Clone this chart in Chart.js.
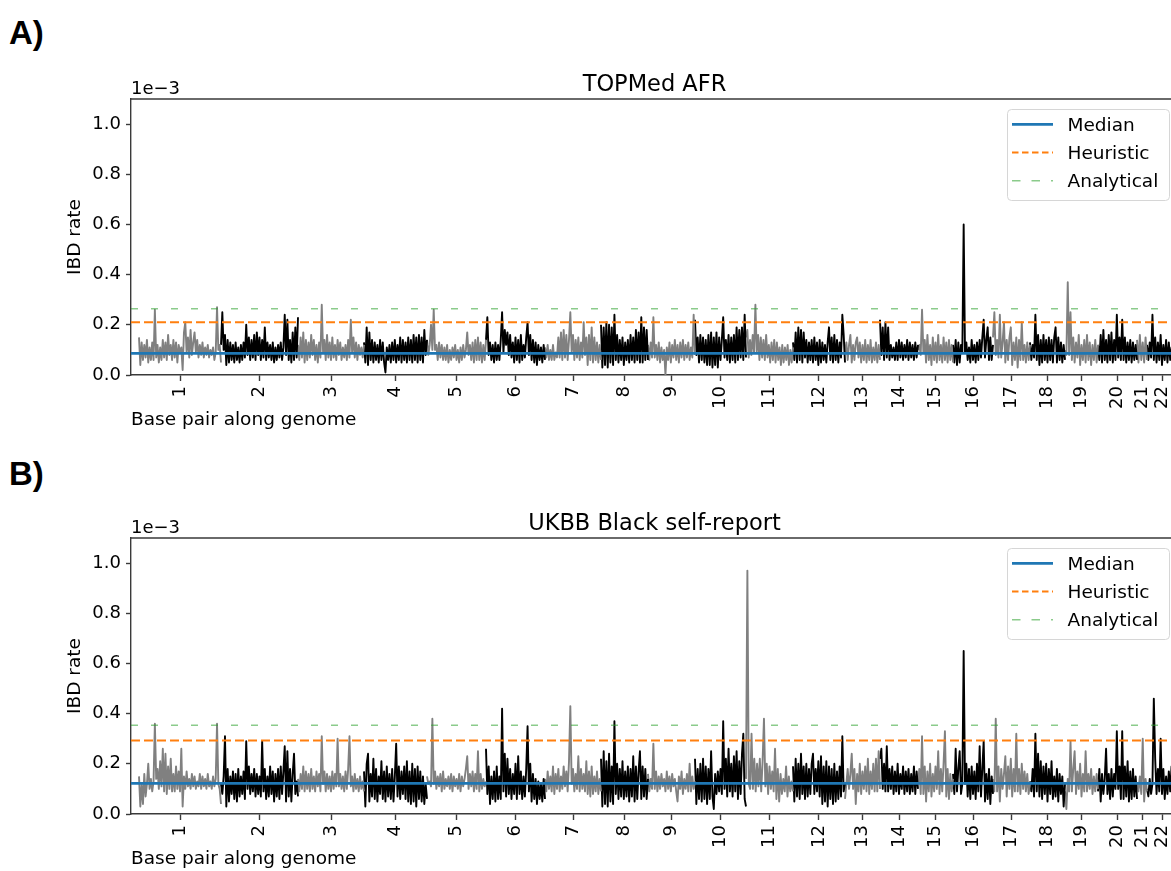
<!DOCTYPE html>
<html>
<head>
<meta charset="utf-8">
<script src="https://cdn.jsdelivr.net/npm/chart.js@4.4.0/dist/chart.umd.min.js"></script>
<style>
  body { margin: 0; background: #fff; width: 1171px; height: 871px; overflow: hidden; position: relative; }
  .tag { position: absolute; left: 9px; font: bold 33px "Liberation Sans", Arial, sans-serif; color: #000; line-height: 1; }
  .panel { position: absolute; left: 0; width: 1190px; height: 390px; }
</style>
</head>
<body>
<div class="tag" style="top:16px">A)</div>
<div class="tag" style="top:457px">B)</div>
<div class="panel" style="top:50px"><canvas id="chartA" width="1190" height="390"></canvas></div>
<div class="panel" style="top:489px"><canvas id="chartB" width="1190" height="390"></canvas></div>
<script>
const chromLabels = ["1", "2", "3", "4", "5", "6", "7", "8", "9", "10", "11",
  "12", "13", "14", "15", "16", "17", "18", "19", "20", "21", "22"]
// chromosome extent along the genome axis (Mb)
const chromLengthMb = [246, 231, 198, 189, 177, 177, 168, 141, 141, 153, 141,
  156, 105, 114, 105, 120, 111, 105, 99, 117, 30, 90]

// IBD rate per window, chromosome by chromosome, in units of 1e-5
const topmedAfr = [
  [15,4,13,6,12,7,14,5,11,6,13,6,26,7,12,5,11,6,14,7,13,6,16,8,12,6,14,7,13,5,12,9,11,2,17,21,9,15,7,18,8,13,17,9,14,7,12,8,13,7,11,8,12,7,10,8,11,6,9,27,10,12,5],
  [12,25,10,16,4,14,5,13,6,12,5,13,6,11,5,12,6,13,7,20,8,15,6,14,7,16,6,17,8,15,6,14,7,19,6,13,7,12,6,13,5,11,6,12,7,13,6,11,24,8,22,6,14,5,17,6,19,7,23],
  [12,6,15,7,17,5,14,6,13,7,16,8,14,6,12,5,13,7,28,9,14,6,16,7,13,6,15,7,12,6,14,8,13,6,11,7,12,6,14,7,22,9,15,7,13,6,12,8,11,7,12],
  [13,5,19,4,17,6,14,5,13,6,12,5,14,6,13,5,1,11,6,12,5,13,6,14,5,12,6,15,5,14,6,13,5,15,6,14,5,16,6,15,5,16,6,15,5,18,8,14],
  [14,8,12,20,10,26,10,12,6,13,7,12,6,11,6,12,5,10,6,11,7,12,6,10,5,11,6,12,7,10,17,8,12,6,13,5,14,6,15,6,13,5,12,6,14],
  [14,23,8,13,6,12,5,13,6,12,6,14,25,9,18,12,17,8,16,7,13,5,15,6,14,5,16,6,12,7,15,21,8,16,6,14,5,13,4,12,6,11,5,12,6],
  [11,7,12,6,10,6,12,6,9,7,15,7,17,6,18,7,16,6,14,25,9,16,6,14,7,15,6,13,7,21,8,15,4,16,6,19,5,15,6,13,5,12,6],
  [20,3,19,4,21,3,20,5,19,4,24,6,16,5,14,6,15,4,13,6,14,5,16,6,15,5,18,6,17,5,23,5,19,6,18,6],
  [12,6,13,7,23,7,12,6,13,5,11,6,10,0,11,6,13,5,12,7,14,6,12,5,13,7,14,6,12,7,13,6,11,7,24,8],
  [22,8,15,5,16,6,15,5,14,4,16,4,17,3,15,4,17,3,15,6,14,23,7,14,6,16,5,15,6,16,5,19,6,18,7,19,6,24,7],
  [15,18,7,14,8,16,9,28,9,16,6,15,7,14,6,16,7,12,5,13,6,14,5,13,6,11,4,12,5,11,6,12,4,10,5,11],
  [13,6,17,5,19,6,18,5,17,7,14,5,13,6,14,5,15,6,13,4,14,5,13,6,12,5,13,19,6,15,5,16,6,14,5,13,7,24,16,5],
  [9,13,6,12,16,5,12,6,13,15,7,13,5,12,6,14,5,12,6,14,5,11,6,13,5,12,6],
  [22,8,19,6,21,7,19,6,12,7,11,6,13,6,14,7,13,6,12,7,14,6,13,7,12,6,13,7,12],
  [10,12,8,26,9,14,5,16,6,12,4,15,6,13,5,16,6,12,5,15,6,13,5,14,6,12,5],
  [12,5,14,4,13,5,12,9,60,9,13,6,11,5,14,6,12,5,13,6,14,7,15,22,7,14,19,6,15,6,12],
  [15,25,8,14,7,24,7,13,21,5,14,6,15,19,4,13,6,15,3,14,6,21,6,12,5,13,6,12],
  [13,6,12,7,24,6,16,4,14,5,16,6,14,5,15,6,14,5,15,19,5,15,6,13,5,12,6],
  [10,8,37,8,25,6,15,5,13,7,16,4,12,6,14,5,16,6,13,4,12,6,14,5,12],
  [12,6,16,5,18,6,14,5,16,6,17,5,14,6,24,7,15,6,22,6,15,5,13,6,14,5,13,6,12,6],
  [14,5,16,6,13,5,15,6],
  [12,6,13,7,24,6,15,5,13,6,16,4,12,6,14,5,13,6,11,5,12,6,11]
]

const ukbbBlack = [
  [15,3,12,4,16,7,12,20,10,14,9,13,36,14,18,10,21,11,26,9,24,8,19,10,22,9,16,9,19,10,17,9,26,3,15,10,17,11,14,10,16,11,15,10,13,11,16,10,15,11,14,10,16,11,13,10,15,11,14,36,12,10,4],
  [12,8,15,31,3,18,5,15,8,17,6,16,5,18,7,15,8,17,6,29,10,19,8,16,9,18,7,16,8,15,7,29,9,18,6,15,7,19,8,17,5,16,7,18,6,19,8,17,27,5,25,7,18,5,16,24,8,13,7],
  [14,9,16,10,19,9,17,10,16,9,18,10,15,9,17,11,16,9,31,12,17,9,16,10,15,9,17,10,16,11,30,11,16,10,15,9,17,10,18,31,11,15,9,16,10,14,9,15,10,13,9],
  [17,3,20,24,5,16,7,22,6,18,5,15,8,21,6,17,5,19,7,16,6,18,5,15,28,7,19,6,17,8,19,6,21,5,17,4,20,5,18,3,19,6,17,5,15,4,12,6],
  [15,12,13,11,38,12,17,10,15,11,16,9,17,10,14,11,15,10,16,9,15,11,14,10,16,9,15,11,14,18,23,10,16,11,17,9,16,10,25,9,16,10,14,11,13],
  [26,8,19,4,15,6,17,5,19,6,15,6,42,9,24,7,22,8,18,6,16,8,20,6,23,8,17,6,15,7,18,35,9,20,5,16,6,14,4,13,6,12,5,14,6],
  [14,9,17,10,15,9,19,8,16,10,18,9,15,10,19,11,17,9,21,43,12,18,9,16,10,23,9,18,10,16,9,21,8,17,7,19,8,15,9,17,8,14,9],
  [22,3,25,4,21,3,24,5,19,4,37,8,20,6,18,7,21,6,17,7,19,5,18,7,23,5,19,6,17,25,6,19,7,18,6,14],
  [16,9,14,10,28,10,17,9,15,10,16,11,14,9,17,10,15,9,16,11,14,9,5,15,10,17,8,14,10,16,9,20,9,15,10,13],
  [22,4,18,6,20,5,22,6,19,4,18,6,25,7,2,16,8,17,9,18,8,37,10,22,7,26,9,20,7,23,9,25,6,21,8,24,32,6,3],
  [14,97,12,10,32,10,22,9,20,11,22,9,21,38,11,20,8,19,10,17,9,26,6,18,5,16,8,14,9,19,7,15,9,13,9],
  [19,5,22,7,20,6,24,8,19,6,20,7,18,8,20,24,8,18,9,21,7,23,4,19,5,21,3,19,6,18,4,20,5,17,6,19,7,31,9,12],
  [6,12,18,10,16,24,10,18,4,16,9,20,8,17,10,19,9,22,8,17,10,20,9,22,9,25,10],
  [22,26,10,20,9,27,9,18,10,19,8,17,9,20,8,16,10,19,8,17,9,18,8,16,9,19,8,17,10],
  [12,18,8,31,8,19,5,17,9,20,7,16,9,19,10,25,8,18,9,20,33,7,18,6,16,9,14],
  [16,8,26,9,18,25,8,12,65,12,20,7,18,6,19,8,17,6,20,9,27,7,18,29,5,16,6,18,4,15,8],
  [14,9,38,9,19,5,18,10,16,23,7,19,10,22,7,18,9,32,9,18,8,20,10,17,9,16,8,12],
  [13,9,18,7,32,9,24,7,21,6,19,8,20,5,18,8,21,6,15,7,18,5,16,8,15,3,12],
  [9,2,14,9,29,9,18,25,8,17,10,20,7,16,9,25,9,16,10,18,8,15,9,16,10],
  [9,18,5,16,8,14,26,8,16,6,18,7,16,10,33,10,19,6,33,6,19,7,21,5,17,6,18,7,15,6],
  [12,9,15,8,30,5,14,9],
  [10,7,14,8,12,46,22,8,18,9,30,8,18,6,15,8,17,9,19,7,16,8,14]
]

// genome-wide thresholds (units of 1e-3), TOPMed AFR then UKBB
const medianRate = [0.086, 0.122]
const heuristicRate = [0.21, 0.293]
const analyticalRate = [0.264, 0.354]
const panelTitles = ["TOPMed AFR", "UKBB Black self-report"]

const X_MIN = -24
const X_MAX = 3117
const FONT = "DejaVu Sans"
const SPINE = "#3a3a3a"

const chromStart = []
let acc = 0
chromLengthMb.forEach((len) => {
  chromStart.push(acc)
  acc += len
})
const chromMid = chromStart.map((s, i) => s + chromLengthMb[i] / 2)

function chromDatasets(series) {
  return series.map((vals, c) => ({
    data: vals.map((v, i) => ({
      x: chromStart[c] + (chromLengthMb[c] * i) / (vals.length - 1),
      y: v / 100,
    })),
    borderColor: c % 2 === 0 ? "#808080" : "#000000",
    borderWidth: 1.9,
    borderJoinStyle: "round",
    order: 2,
  }))
}

function hline(label, y, color, width, dash) {
  return {
    label: label,
    data: [{ x: X_MIN, y: y }, { x: X_MAX, y: y }],
    borderColor: color,
    borderWidth: width,
    borderDash: dash,
    order: 1,
  }
}

// top spine, title, offset text and legend box
const panelDecor = {
  id: "panelDecor",
  afterDraw(chart, args, opts) {
    const { ctx, chartArea: a } = chart
    ctx.save()
    ctx.strokeStyle = SPINE
    ctx.lineWidth = 1.4
    ctx.beginPath()
    ctx.moveTo(a.left, a.top)
    ctx.lineTo(a.right, a.top)
    ctx.lineTo(a.right, a.bottom)
    ctx.stroke()

    ctx.fillStyle = "#000"
    ctx.textBaseline = "alphabetic"
    ctx.textAlign = "center"
    ctx.font = `22.5px "${FONT}"`
    ctx.fillText(opts.title, (a.left + a.right) / 2, a.top - 8.5)
    ctx.textAlign = "left"
    ctx.font = `18px "${FONT}"`
    ctx.fillText("1e\u22123", a.left, a.top - 4.6)

    const items = chart.data.datasets.filter((d) => d.label)
    const bx = a.right - 171
    const by = a.top + 10
    ctx.fillStyle = "rgba(255,255,255,0.8)"
    ctx.strokeStyle = "#d6d6d6"
    ctx.lineWidth = 1
    ctx.beginPath()
    ctx.roundRect(bx + 0.5, by + 0.5, 162, 91, 4)
    ctx.fill()
    ctx.stroke()
    items.forEach((d, i) => {
      const y = by + 15.3 + i * 28.2
      ctx.strokeStyle = d.borderColor
      ctx.lineWidth = d.borderWidth
      ctx.setLineDash(d.legendDash || d.borderDash || [])
      ctx.beginPath()
      ctx.moveTo(bx + 5, y)
      ctx.lineTo(bx + 46, y)
      ctx.stroke()
      ctx.setLineDash([])
      ctx.fillStyle = "#000"
      ctx.font = `18.5px "${FONT}"`
      ctx.fillText(d.label, bx + 60.5, y + 6.7)
    })
    ctx.restore()
  },
}

function makePanel(canvasId, p, series) {
  const orange = hline("Heuristic", heuristicRate[p], "#ff7f0e", 2, [9, 4])
  orange.legendDash = [6.5, 3.5]
  const green = hline("Analytical", analyticalRate[p], "rgba(44,160,44,0.55)", 1.4, [7, 13])
  green.legendDash = [8.5, 11]

  new Chart(document.getElementById(canvasId), {
    type: "line",
    data: {
      datasets: [
        hline("Median", medianRate[p], "#1f77b4", 2.8, []),
        orange,
        green,
        ...chromDatasets(series),
      ],
    },
    options: {
      responsive: false,
      animation: false,
      events: [],
      layout: { padding: { top: 49, right: 12, bottom: 0, left: 0 } },
      elements: { point: { radius: 0 }, line: { tension: 0, fill: false } },
      plugins: {
        legend: { display: false },
        tooltip: { enabled: false },
        panelDecor: { title: panelTitles[p] },
      },
      scales: {
        x: {
          type: "linear",
          min: X_MIN,
          max: X_MAX,
          afterBuildTicks(scale) {
            scale.ticks = chromMid.map((v) => ({ value: v }))
          },
          afterFit(scale) {
            scale.height = 65
            scale.paddingLeft = 0
            scale.paddingRight = 0
          },
          ticks: {
            autoSkip: false,
            minRotation: 90,
            maxRotation: 90,
            padding: 5,
            color: "#000",
            font: { family: FONT, size: 18 },
            callback: (value, index) => chromLabels[index],
          },
          grid: { drawOnChartArea: false, drawTicks: true, tickLength: 6, tickColor: SPINE, tickWidth: 1.4 },
          border: { color: SPINE, width: 1.4 },
          title: {
            display: true,
            text: "Base pair along genome",
            align: "start",
            color: "#000",
            font: { family: FONT, size: 18.5 },
            padding: { top: 0, bottom: 8.4 },
          },
        },
        y: {
          min: 0,
          max: 1.1,
          afterFit(scale) {
            scale.width = 131
            scale.paddingTop = 0
            scale.paddingBottom = 0
          },
          ticks: {
            stepSize: 0.2,
            includeBounds: false,
            padding: 5,
            color: "#000",
            font: { family: FONT, size: 18 },
            callback: (v) => v.toFixed(1),
          },
          grid: { drawOnChartArea: false, drawTicks: true, tickLength: 5, tickColor: SPINE, tickWidth: 1.4 },
          border: { color: SPINE, width: 1.4 },
          title: {
            display: true,
            text: "IBD rate",
            color: "#000",
            font: { family: FONT, size: 18.5 },
            padding: { top: 64, bottom: 0 },
          },
        },
      },
    },
    plugins: [panelDecor],
  })
}

makePanel("chartA", 0, topmedAfr)
makePanel("chartB", 1, ukbbBlack)
</script>
</body>
</html>
